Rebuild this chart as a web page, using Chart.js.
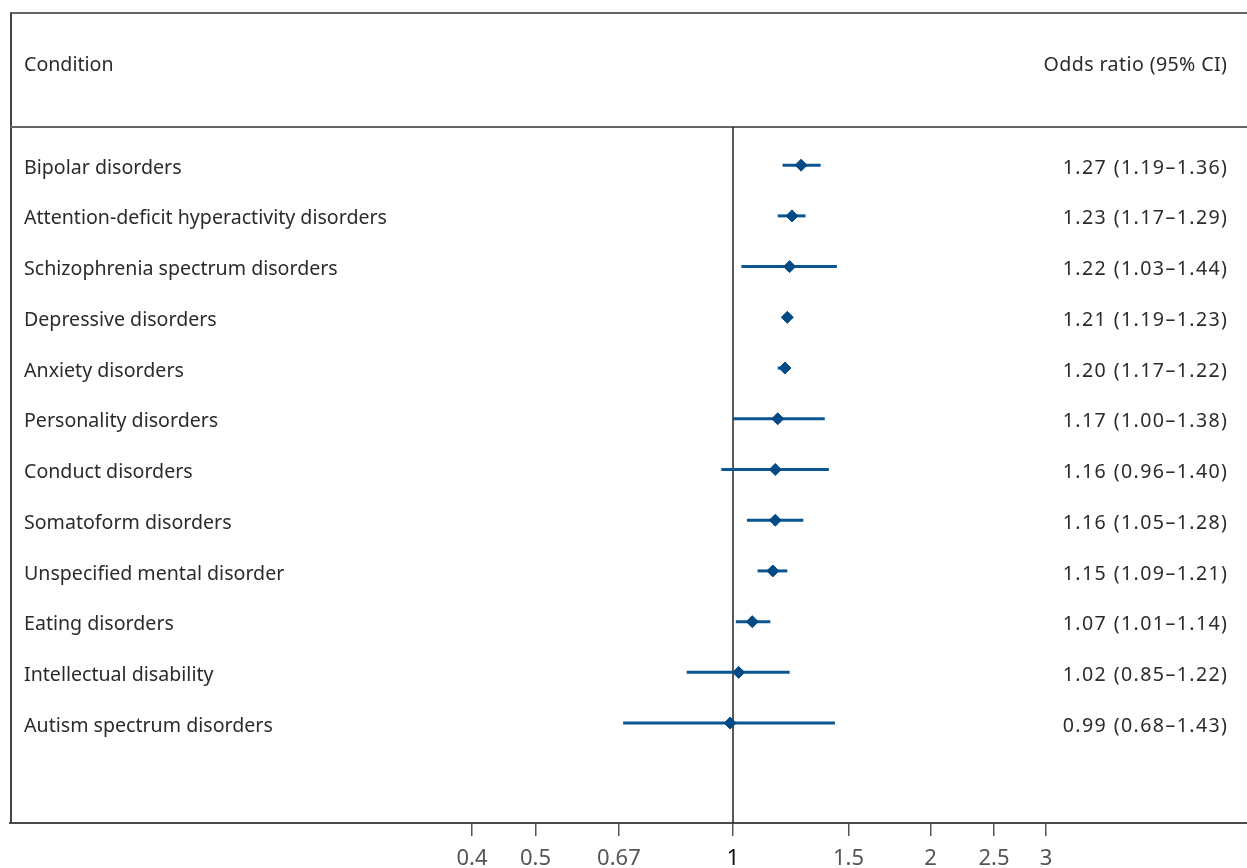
<!DOCTYPE html>
<html>
<head>
<meta charset="utf-8">
<script src="https://cdn.jsdelivr.net/npm/chart.js@4.4.1/dist/chart.umd.min.js"></script>
<style>
  html, body { margin: 0; padding: 0; background: #fff; overflow: hidden; }
  #wrap { width: 1247px; height: 868px; position: relative; }
</style>
</head>
<body>
<div id="wrap"><canvas id="forestChart"></canvas></div>
<script>
// ===== Data =====
const conditions = [
  "Bipolar disorders",
  "Attention-deficit hyperactivity disorders",
  "Schizophrenia spectrum disorders",
  "Depressive disorders",
  "Anxiety disorders",
  "Personality disorders",
  "Conduct disorders",
  "Somatoform disorders",
  "Unspecified mental disorder",
  "Eating disorders",
  "Intellectual disability",
  "Autism spectrum disorders",
];
const oddsRatio = [1.27, 1.23, 1.22, 1.21, 1.20, 1.17, 1.16, 1.16, 1.15, 1.07, 1.02, 0.99];
const ciLower   = [1.19, 1.17, 1.03, 1.19, 1.17, 1.00, 0.96, 1.05, 1.09, 1.01, 0.85, 0.68];
const ciUpper   = [1.36, 1.29, 1.44, 1.23, 1.22, 1.38, 1.40, 1.28, 1.21, 1.14, 1.22, 1.43];
const xTicks = [0.4, 0.5, 0.67, 1, 1.5, 2, 2.5, 3];

const blue = "#0b5590";
const darkBlue = "#004a86";
const font = "'Noto Sans', 'Open Sans', sans-serif";

// where OR = 1 sits and how wide one log unit is
const nullPixel = 733;
const pxPerLn = 284.9;

// CI lines, one small dataset per row
const ciSets = conditions.map((c, i) => ({
  label: c,
  data: [{ x: ciLower[i], y: i }, { x: ciUpper[i], y: i }],
  showLine: true,
  borderColor: blue,
  borderWidth: 3,
  pointRadius: 0,
  order: 2,
}));

const pointSet = {
  label: "Odds ratio",
  data: oddsRatio.map((v, i) => ({ x: v, y: i })),
  pointStyle: "rectRot",
  pointRadius: 6,
  backgroundColor: darkBlue,
  borderColor: darkBlue,
  borderWidth: 1,
  order: 1,
};

// fit log range to the final chart area
const fitLogRange = {
  id: "fitLogRange",
  afterLayout(chart) {
    const s = chart.scales.x;
    s.min = Math.exp((s.left - nullPixel) / pxPerLn);
    s.max = Math.exp((s.right - nullPixel) / pxPerLn);
    s.configure();
  },
};

// frame, reference line and text columns
const forestDecor = {
  id: "forestDecor",
  beforeDatasetsDraw(chart) {
    const { ctx, scales } = chart;
    const x = scales.x, y = scales.y;
    const left = 10, right = chart.width;
    const top = y.getPixelForValue(-3);
    const sep = y.getPixelForValue(-0.75);
    const bottom = chart.chartArea.bottom;
    ctx.save();
    // top line
    ctx.strokeStyle = "#333";
    ctx.lineWidth = 1.5;
    ctx.beginPath();
    ctx.moveTo(left, top);
    ctx.lineTo(right, top);
    ctx.stroke();
    // left line
    ctx.strokeStyle = "#444";
    ctx.lineWidth = 2;
    ctx.beginPath();
    ctx.moveTo(left + 1, top);
    ctx.lineTo(left + 1, bottom);
    ctx.stroke();
    // axis line runs to the edge
    ctx.strokeStyle = "#4a4a4a";
    ctx.beginPath();
    ctx.moveTo(chart.chartArea.right - 2, bottom);
    ctx.lineTo(right, bottom);
    ctx.stroke();
    // header separator
    ctx.strokeStyle = "#666";
    ctx.lineWidth = 2;
    ctx.beginPath();
    ctx.moveTo(left, sep);
    ctx.lineTo(right, sep);
    ctx.stroke();
    // line of no effect
    const x1 = x.getPixelForValue(1);
    ctx.strokeStyle = "#222";
    ctx.lineWidth = 1.5;
    ctx.beginPath();
    ctx.moveTo(x1, sep);
    ctx.lineTo(x1, bottom);
    ctx.stroke();
    ctx.restore();
  },
  afterDraw(chart) {
    const { ctx, scales } = chart;
    const y = scales.y;
    ctx.save();
    ctx.font = "19.6px " + font;
    ctx.fillStyle = "#2b2b2b";
    ctx.textBaseline = "middle";
    // header
    ctx.textAlign = "left";
    ctx.fillText("Condition", 24, y.getPixelForValue(-2) + 2);
    ctx.textAlign = "right";
    ctx.letterSpacing = "0.4px";
    ctx.fillText("Odds ratio (95% CI)", 1227.4, y.getPixelForValue(-2) + 2);
    // rows
    conditions.forEach((c, i) => {
      const py = y.getPixelForValue(i) + 3;
      ctx.textAlign = "left";
      ctx.letterSpacing = "0px";
      ctx.fillText(c, 24, py);
      ctx.textAlign = "right";
      ctx.letterSpacing = "1.4px";
      const txt = oddsRatio[i].toFixed(2) + " (" + ciLower[i].toFixed(2) + "\u2013" + ciUpper[i].toFixed(2) + ")";
      ctx.fillText(txt, 1228.4, py);
    });
    ctx.restore();
  },
};

const ctx = document.getElementById("forestChart").getContext("2d");
const forestChart = new Chart(ctx, {
  type: "scatter",
  data: { datasets: [...ciSets, pointSet] },
  options: {
    responsive: true,
    maintainAspectRatio: false,
    animation: false,
    layout: { padding: { left: 10, top: 13, right: 0, bottom: 0 } },
    plugins: {
      legend: { display: false },
      tooltip: { enabled: false },
    },
    scales: {
      x: {
        type: "logarithmic",
        min: 0.079,
        max: 6.07,
        afterBuildTicks: (scale) => {
          scale.ticks = xTicks.map((v) => ({ value: v }));
        },
        afterFit: (scale) => {
          scale.height = 45;
        },
        grid: {
          display: true,
          drawOnChartArea: false,
          drawTicks: true,
          tickLength: 13,
          color: "#555",
          lineWidth: 1.5,
        },
        border: { display: true, color: "#4a4a4a", width: 2 },
        ticks: {
          autoSkip: false,
          maxRotation: 0,
          padding: 10,
          font: { family: font, size: 22 },
          color: (c) => (c.tick && c.tick.value === 1 ? "#111" : "#555"),
          callback: (v) => String(v),
        },
      },
      y: {
        display: false,
        reverse: true,
        min: -3,
        max: 12.97,
      },
    },
  },
  plugins: [fitLogRange, forestDecor],
});
</script>
</body>
</html>
